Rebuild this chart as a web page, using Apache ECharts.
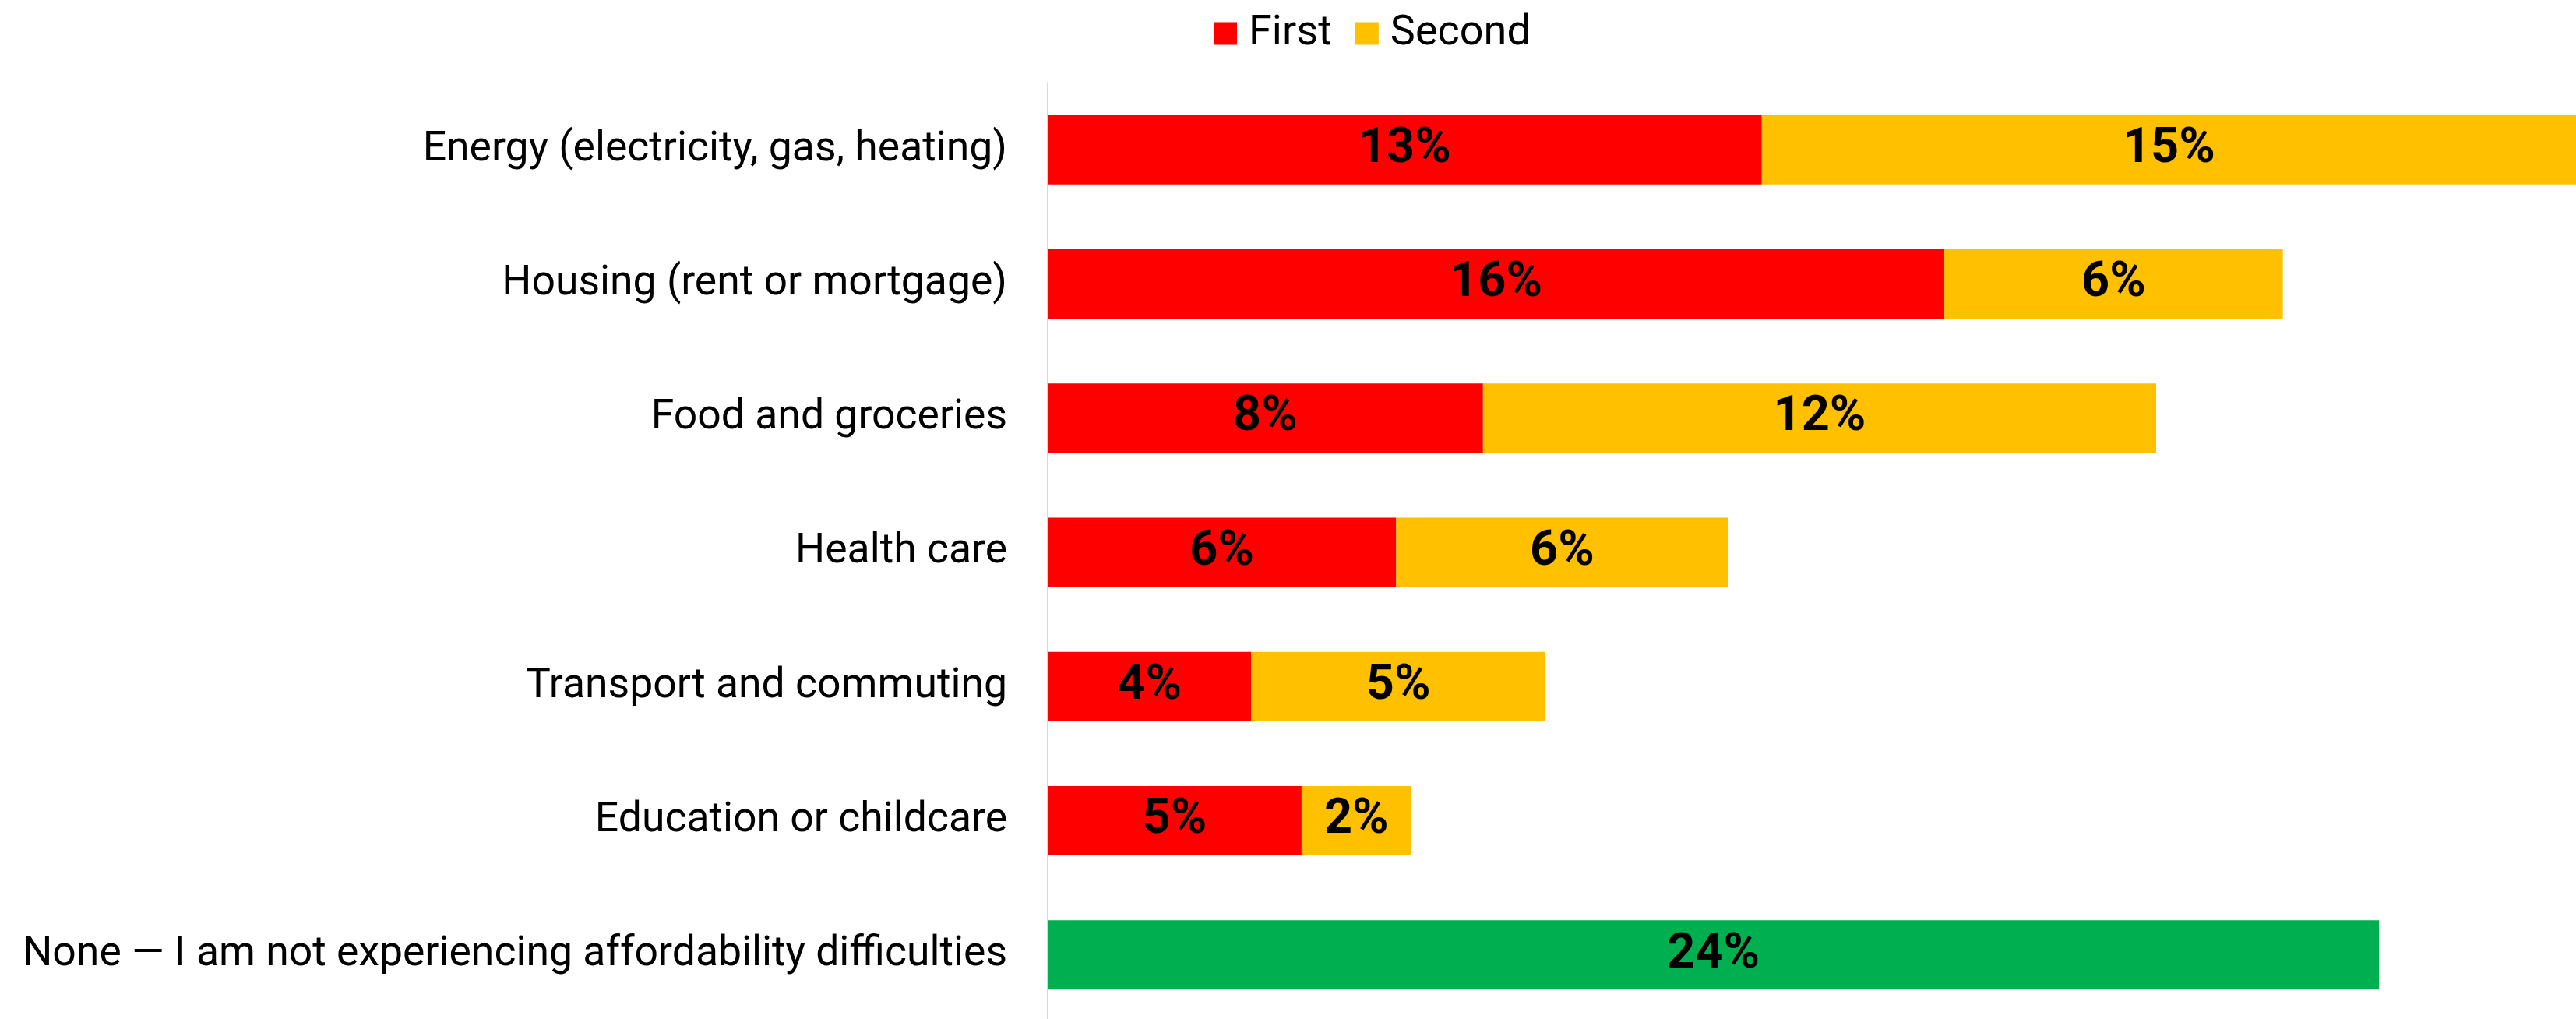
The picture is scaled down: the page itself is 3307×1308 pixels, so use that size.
<!DOCTYPE html>
<html>
<head>
<meta charset="utf-8">
<script src="https://cdn.jsdelivr.net/npm/echarts@6/dist/echarts.min.js"></script>
<style>
html,body{margin:0;padding:0;background:#fff;overflow:hidden;}
#chart{width:3307px;height:1330px;}
</style>
</head>
<body>
<div id="chart"></div>
<script>
const categories = [
  'Energy (electricity, gas, heating)',
  'Housing (rent or mortgage)',
  'Food and groceries',
  'Health care',
  'Transport and commuting',
  'Education or childcare',
  'None \u2014 I am not experiencing affordability difficulties'
];
const firstValues = [12.91, 16.21, 7.87, 6.30, 3.68, 4.59, 24.07];
const secondValues = [14.72, 6.12, 12.17, 6.00, 5.32, 1.98, null];
const seriesNames = ['First', 'Second'];
const colors = { first: '#FF0000', second: '#FFC000', none: '#00B050' };
const noneIndex = 6;

const firstData = firstValues.map((v, i) =>
  i === noneIndex ? { value: v, itemStyle: { color: colors.none } } : v
);
const secondData = secondValues.map(v => (v === null ? '-' : v));

const labelCfg = {
  show: true,
  position: 'inside',
  color: '#000',
  fontFamily: 'Roboto',
  fontWeight: 'bold',
  fontSize: 63,
  formatter: p => Math.round(p.value) + '%'
};

const chart = echarts.init(document.getElementById('chart'));
chart.setOption({
  animation: false,
  backgroundColor: '#fff',
  legend: {
    data: seriesNames,
    left: 1553,
    top: 11,
    itemWidth: 30,
    itemHeight: 29,
    itemGap: 30,
    icon: 'rect',
    textStyle: { fontFamily: 'Roboto', fontSize: 54, color: '#000', padding: [0, 0, 0, 10] }
  },
  grid: { left: 1345, right: 0, top: 106, height: 1206, containLabel: false },
  xAxis: {
    type: 'value',
    min: 0,
    max: 'dataMax',
    show: false
  },
  yAxis: {
    type: 'category',
    data: categories,
    inverse: true,
    axisLine: { show: true, lineStyle: { color: '#D9D9D9', width: 2 } },
    axisTick: { show: false },
    axisLabel: { fontFamily: 'Roboto', fontSize: 53.5, color: '#000', margin: 52 }
  },
  series: [
    {
      name: seriesNames[0],
      type: 'bar',
      stack: 'total',
      barWidth: 89,
      itemStyle: { color: colors.first },
      label: labelCfg,
      data: firstData
    },
    {
      name: seriesNames[1],
      type: 'bar',
      stack: 'total',
      barWidth: 89,
      itemStyle: { color: colors.second },
      label: labelCfg,
      data: secondData
    }
  ]
});
</script>
</body>
</html>
